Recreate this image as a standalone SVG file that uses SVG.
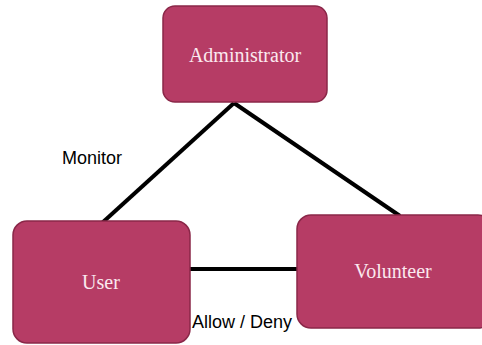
<svg xmlns="http://www.w3.org/2000/svg" width="482" height="345" viewBox="0 0 482 345">
<style>
.node{fill:#b63c65;stroke:#8a2748;stroke-width:1.5}
.nt{font-family:"Liberation Serif",serif;font-size:20px;fill:#fbe9ef;text-anchor:middle}
.lb{font-family:"Liberation Sans",sans-serif;font-size:18px;fill:#000}
.c{stroke:#000;stroke-width:4;fill:none}
</style>
<rect width="482" height="345" fill="#fff"/>
<g id="connectors">
<line class="c" x1="234" y1="103" x2="102" y2="223"/>
<line class="c" x1="234" y1="103" x2="400" y2="216"/>
<line class="c" x1="190" y1="269" x2="304" y2="269"/>
</g>
<g id="administrator">
<rect class="node" x="163" y="6" width="164" height="96" rx="12"/>
<text class="nt" x="245" y="62">Administrator</text>
</g>
<g id="user">
<rect class="node" x="13" y="221" width="177" height="122" rx="14"/>
<text class="nt" x="101" y="289">User</text>
</g>
<g id="volunteer">
<rect class="node" x="297" y="215" width="195" height="113" rx="14"/>
<text class="nt" x="393" y="278">Volunteer</text>
</g>
<g id="labels">
<text class="lb" x="62" y="164">Monitor</text>
<text class="lb" x="192" y="328">Allow / Deny</text>
</g>
</svg>
